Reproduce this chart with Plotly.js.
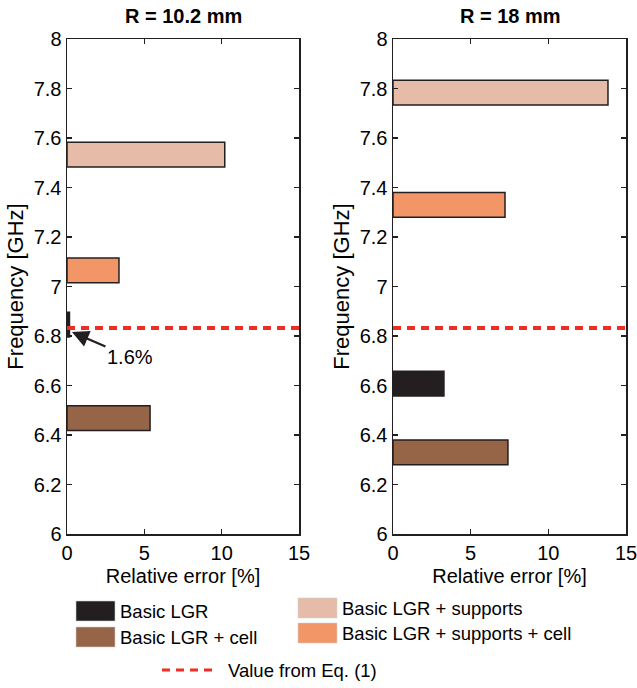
<!DOCTYPE html>
<html>
<head>
<meta charset="utf-8">
<script src="https://cdn.plot.ly/plotly-3.0.1.min.js"></script>
<style>html,body{margin:0;padding:0;background:#fff;}</style>
</head>
<body>
<div id="chart" style="width:637px;height:688px;"></div>
<script>
// ---- data ----
const categories = ['Basic LGR', 'Basic LGR + cell', 'Basic LGR + supports', 'Basic LGR + supports + cell'];
const colors = ['#231f20', '#966446', '#e6bca9', '#f39667'];
const panelTitles = ['R = 10.2 mm', 'R = 18 mm'];
const freqR102 = [6.846, 6.468, 7.533, 7.065];   // GHz (bar centres)
const errR102 = [0.16, 5.37, 10.2, 3.36];         // relative error [%]
const freqR18 = [6.608, 6.33, 7.783, 7.33];
const errR18 = [3.28, 7.40, 13.84, 7.21];
const eqValue = 6.832;                             // Value from Eq. (1), GHz
const eqLabel = 'Value from Eq. (1)';
const xRange = [0, 15];
const yRange = [6, 8];
const xTicks = [0, 5, 10, 15];
const yTicks = [6, 6.2, 6.4, 6.6, 6.8, 7, 7.2, 7.4, 7.6, 7.8, 8];
const yTickText = ['6', '6.2', '6.4', '6.6', '6.8', '7', '7.2', '7.4', '7.6', '7.8', '8'];
const arrowLabel = '1.6%';

const W = 637, H = 688;
const px = v => v / W;
const py = v => 1 - v / H;

const edge = '#231f20';
const FONT = 'Liberation Sans, Arial, sans-serif';
const traces = [];
[[freqR102, errR102, 'x', 'y'], [freqR18, errR18, 'x2', 'y2']].forEach(([f, e, xa, ya]) => {
  categories.forEach((c, i) => {
    traces.push({
      type: 'bar', orientation: 'h', name: c,
      y: [f[i]], x: [e[i]], width: 0.1,
      xaxis: xa, yaxis: ya, showlegend: false,
      marker: {color: colors[i], line: {color: edge, width: 1.5}},
      hoverinfo: 'x+y'
    });
  });
  traces.push({
    type: 'scatter', mode: 'lines', name: eqLabel,
    x: xRange, y: [eqValue, eqValue], xaxis: xa, yaxis: ya, showlegend: false,
    line: {color: '#ee2e24', width: 4, dash: '8px,6px'}
  });
});

const tickFont = {family: FONT, size: 20, color: '#000'};
function xax(domain, anchor) {
  return {
    domain: domain, anchor: anchor, range: xRange, tickvals: xTicks,
    ticks: 'inside', ticklen: 5, tickwidth: 1.3, tickcolor: edge,
    showline: true, linecolor: edge, linewidth: 1.5, mirror: 'ticks',
    showgrid: false, zeroline: false, tickfont: tickFont, automargin: false,
    ticklabeloverflow: 'allow',
    title: {text: 'Relative error [%]', font: {family: FONT, size: 20, color: '#000'}, standoff: 6}
  };
}
function yax(domain, anchor) {
  return {
    domain: domain, anchor: anchor, range: yRange, tickvals: yTicks, ticktext: yTickText,
    ticks: 'inside', ticklen: 5, tickwidth: 1.3, tickcolor: edge,
    showline: true, linecolor: edge, linewidth: 1.5, mirror: 'ticks',
    showgrid: false, zeroline: false, tickfont: tickFont, automargin: false,
    ticklabeloverflow: 'allow',
    title: {text: 'Frequency [GHz]', font: {family: FONT, size: 22, color: '#000'}, standoff: 4}
  };
}

const yDom = [py(534), py(39)];
const layout = {
  width: W, height: H,
  margin: {l: 0, r: 0, t: 0, b: 0},
  paper_bgcolor: '#fff', plot_bgcolor: '#fff',
  bargap: 0, barmode: 'overlay',
  showlegend: false,
  xaxis: xax([px(67), px(299)], 'y'),
  yaxis: yax(yDom, 'x'),
  xaxis2: xax([px(393), px(626)], 'y2'),
  yaxis2: yax(yDom, 'x2'),
  shapes: [],
  annotations: []
};

// subplot titles
[[183, panelTitles[0]], [510, panelTitles[1]]].forEach(([cx, t]) => {
  layout.annotations.push({
    xref: 'paper', yref: 'paper', x: px(cx), y: py(16), xanchor: 'center', yanchor: 'middle',
    text: '<b>' + t + '</b>', showarrow: false,
    font: {family: FONT, size: 20, color: '#000'}
  });
});

// arrow annotation
layout.annotations.push({
  xref: 'x', yref: 'y', x: 0.32, y: 6.816, ax: 58, ay: 25,
  text: arrowLabel, showarrow: true, arrowhead: 2, arrowsize: 1.4, arrowwidth: 2.4, arrowcolor: '#231f20',
  standoff: 0, font: {family: FONT, size: 20, color: '#000'}
});

// manual legend
const legendFont = {family: FONT, size: 18.5, color: '#000'};
const legendItems = [
  [0, 76, 601], [1, 76, 627], [2, 298, 598], [3, 298, 623]
];
legendItems.forEach(([i, x0, y0]) => {
  layout.shapes.push({
    type: 'rect', xref: 'paper', yref: 'paper',
    x0: px(x0), x1: px(x0 + 39), y0: py(y0 + 20), y1: py(y0),
    fillcolor: colors[i], line: {color: '#d0d0d0', width: 0.6}
  });
  layout.annotations.push({
    xref: 'paper', yref: 'paper', x: px(x0 + 42), y: py(y0 + 10.5),
    xanchor: 'left', yanchor: 'middle', text: categories[i], showarrow: false, font: legendFont
  });
});
layout.shapes.push({
  type: 'line', xref: 'paper', yref: 'paper',
  x0: px(162), x1: px(217), y0: py(670), y1: py(670),
  line: {color: '#ee2e24', width: 3, dash: '8px,6px'}
});
layout.annotations.push({
  xref: 'paper', yref: 'paper', x: px(226), y: py(670),
  xanchor: 'left', yanchor: 'middle', text: eqLabel, showarrow: false, font: legendFont
});

Plotly.newPlot('chart', traces, layout, {displayModeBar: false, staticPlot: true});
</script>
</body>
</html>
